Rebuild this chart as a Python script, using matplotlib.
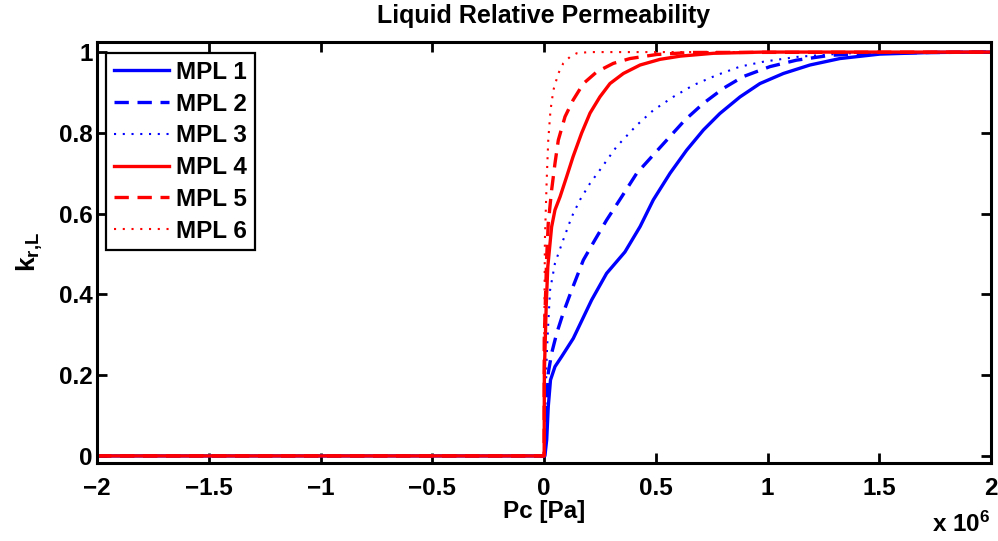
import matplotlib
matplotlib.use("Agg")
import matplotlib.pyplot as plt

plt.rcParams['font.family'] = ['Liberation Sans', 'DejaVu Sans']
plt.rcParams['font.weight'] = 'bold'
plt.rcParams['mathtext.fontset'] = 'custom'
plt.rcParams['mathtext.rm'] = 'Liberation Sans:bold'
plt.rcParams['mathtext.bf'] = 'Liberation Sans:bold'
plt.rcParams['mathtext.it'] = 'Liberation Sans:bold'

# Capillary pressure [Pa] and liquid relative permeability for each material
pc_mpl1 = [-2.0e6, 0.0, 0.004e6, 0.012e6, 0.019e6, 0.029e6, 0.049e6, 0.079e6, 0.131e6, 0.213e6,
           0.28e6, 0.362e6, 0.43e6, 0.489e6, 0.564e6, 0.638e6, 0.713e6, 0.787e6, 0.877e6,
           0.966e6, 1.071e6, 1.19e6, 1.324e6, 1.503e6, 1.73e6, 2.0e6]
kr_mpl1 = [0.0, 0.0, 0.0, 0.04, 0.122, 0.188, 0.221, 0.246, 0.291, 0.386,
           0.452, 0.505, 0.568, 0.634, 0.700, 0.757, 0.807, 0.848, 0.889,
           0.922, 0.947, 0.968, 0.984, 0.995, 0.999, 1.0]

pc_mpl2 = [-2.0e6, 0.0, 0.0015e6, 0.012e6, 0.019e6, 0.034e6, 0.057e6, 0.086e6, 0.124e6, 0.176e6,
           0.228e6, 0.28e6, 0.348e6, 0.415e6, 0.482e6, 0.549e6, 0.631e6, 0.713e6, 0.802e6,
           0.89e6, 1.011e6, 1.13e6, 1.28e6, 1.503e6, 2.0e6]
kr_mpl2 = [0.0, 0.0, 0.0, 0.122, 0.205, 0.254, 0.304, 0.354, 0.411, 0.485,
           0.535, 0.584, 0.642, 0.700, 0.741, 0.782, 0.832, 0.873, 0.910,
           0.939, 0.964, 0.980, 0.992, 0.998, 1.0]

pc_mpl3 = [-2.0e6, 0.0, 0.0015e6, 0.012e6, 0.019e6, 0.027e6, 0.049e6, 0.086e6, 0.124e6, 0.161e6,
           0.206e6, 0.25e6, 0.325e6, 0.415e6, 0.489e6, 0.578e6, 0.668e6, 0.773e6, 0.877e6,
           0.98e6, 1.13e6, 1.35e6, 2.0e6]
kr_mpl3 = [0.0, 0.0, 0.0, 0.246, 0.328, 0.41, 0.477, 0.535, 0.592, 0.634,
           0.675, 0.708, 0.766, 0.819, 0.856, 0.889, 0.918, 0.943, 0.964,
           0.976, 0.988, 0.997, 1.0]

pc_mpl4 = [-2.0e6, 0.0, 0.0007e6, 0.0015e6, 0.0097e6, 0.017e6, 0.034e6, 0.049e6, 0.072e6, 0.101e6,
           0.13e6, 0.168e6, 0.206e6, 0.25e6, 0.295e6, 0.355e6, 0.43e6, 0.519e6, 0.61e6,
           0.758e6, 0.98e6, 2.0e6]
kr_mpl4 = [0.0, 0.0, 0.0, 0.205, 0.37, 0.469, 0.567, 0.609, 0.642, 0.691,
           0.741, 0.799, 0.849, 0.889, 0.922, 0.947, 0.968, 0.982, 0.990,
           0.997, 1.0, 1.0]

pc_mpl5 = [-2.0e6, 0.0, 0.0005e6, 0.001e6, 0.012e6, 0.019e6, 0.034e6, 0.049e6, 0.064e6, 0.094e6,
           0.13e6, 0.176e6, 0.236e6, 0.31e6, 0.385e6, 0.504e6, 0.653e6, 2.0e6]
kr_mpl5 = [0.0, 0.0, 0.0, 0.287, 0.493, 0.576, 0.658, 0.724, 0.782, 0.840,
           0.881, 0.922, 0.951, 0.972, 0.984, 0.994, 0.999, 1.0]

pc_mpl6 = [-2.0e6, 0.0, 0.0003e6, 0.001e6, 0.004e6, 0.012e6, 0.019e6, 0.029e6, 0.042e6, 0.064e6,
           0.086e6, 0.116e6, 0.146e6, 0.2e6, 2.0e6]
kr_mpl6 = [0.0, 0.0, 0.0, 0.287, 0.535, 0.683, 0.782, 0.856, 0.906, 0.947,
           0.972, 0.988, 0.997, 1.0, 1.0]

labels = ['MPL 1', 'MPL 2', 'MPL 3', 'MPL 4', 'MPL 5', 'MPL 6']
x_ticks = [-2.0e6, -1.5e6, -1.0e6, -0.5e6, 0.0, 0.5e6, 1.0e6, 1.5e6, 2.0e6]
x_tick_labels = ['\u22122', '\u22121.5', '\u22121', '\u22120.5', '0', '0.5', '1', '1.5', '2']
y_ticks = [0, 0.2, 0.4, 0.6, 0.8, 1.0]
y_tick_labels = ['0', '0.2', '0.4', '0.6', '0.8', '1']

fig = plt.figure(figsize=(9.98, 5.41), dpi=100)
ax = fig.add_axes([0.0972, 0.1442, 0.8958, 0.7782])

dashed = (0, (4.3, 2.6))
dotted = (0, (1.0, 3.2))
series = [
    (pc_mpl1, kr_mpl1, 'blue', '-', 2.4),
    (pc_mpl2, kr_mpl2, 'blue', dashed, 2.4),
    (pc_mpl3, kr_mpl3, 'blue', dotted, 1.5),
    (pc_mpl4, kr_mpl4, 'red', '-', 2.4),
    (pc_mpl5, kr_mpl5, 'red', dashed, 2.4),
    (pc_mpl6, kr_mpl6, 'red', dotted, 1.5),
]
for (x, y, c, ls, lw), lab in zip(series, labels):
    ax.plot(x, y, color=c, linestyle=ls, linewidth=lw, label=lab)

ax.set_xlim(-2.0e6, 2.0e6)
ax.set_ylim(-0.0175, 1.025)
ax.set_xticks(x_ticks)
ax.set_xticklabels(x_tick_labels)
ax.set_yticks(y_ticks)
ax.set_yticklabels(y_tick_labels)
ax.tick_params(axis='both', direction='in', length=7, width=2, labelsize=17.5,
               top=True, right=True)
ax.tick_params(axis='x', pad=10)
ax.tick_params(axis='y', pad=3)
for lab in ax.get_xticklabels() + ax.get_yticklabels():
    lab.set_fontweight('bold')
for sp in ax.spines.values():
    sp.set_linewidth(2.2)

ax.set_title('Liquid Relative Permeability', fontsize=18, fontweight='bold', pad=14)
ax.set_xlabel('Pc [Pa]', fontsize=17.5, fontweight='bold', labelpad=0)
ax.set_ylabel('k$_{\\mathbf{r{,}L}}$', fontsize=19, fontweight='bold')
ax.yaxis.set_label_coords(-0.058, 0.5)
fig.text(990 / 998, 9 / 541, 'x 10$^{\\mathbf{6}}$', fontsize=17.5, fontweight='bold',
         ha='right', va='baseline')

leg = ax.legend(loc='upper left', bbox_to_anchor=(0.0, 0.995),
                prop={'weight': 'bold', 'size': 17.5}, frameon=True, fancybox=False,
                handlelength=2.26, handletextpad=0.3, labelspacing=0.36,
                borderpad=0.32, borderaxespad=0.37)
leg.get_frame().set_edgecolor('black')
leg.get_frame().set_linewidth(1.6)
leg.get_frame().set_alpha(1.0)

fig.savefig('out.png', dpi=100)
